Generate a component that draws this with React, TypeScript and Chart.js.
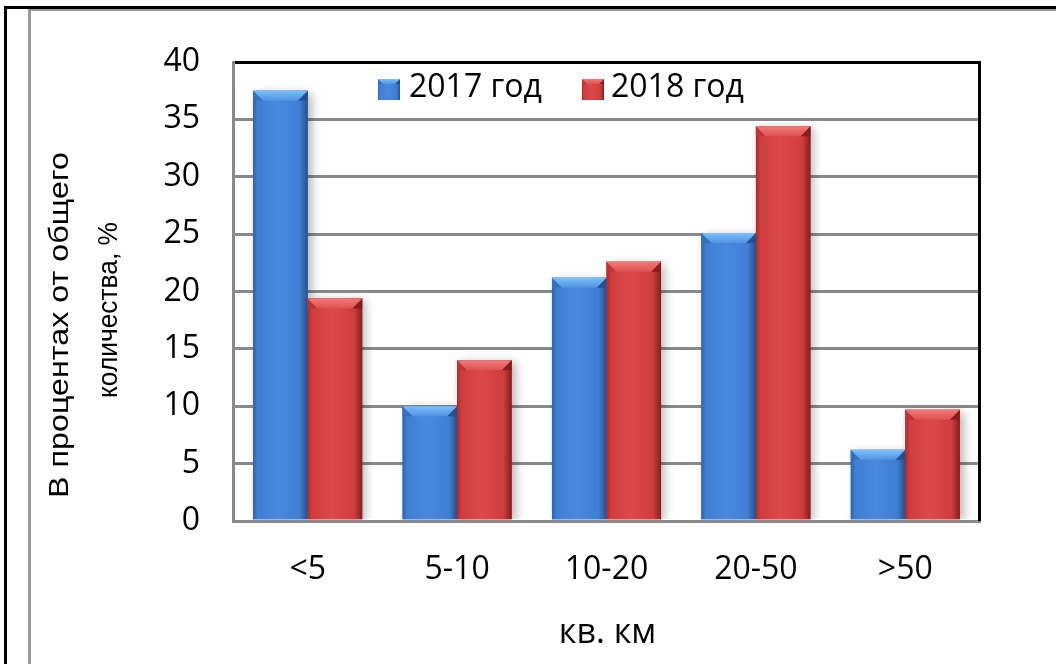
import React, { useEffect, useRef } from "react";
import { Chart, registerables } from "chart.js";

Chart.register(...registerables);

// ---------- data ----------
const categories = ["<5", "5-10", "10-20", "20-50", ">50"];
const values2017 = [37.5, 10.0, 21.2, 25.1, 6.2];
const values2018 = [19.4, 14.0, 22.6, 34.4, 9.7];
const seriesNames = ["2017 год", "2018 год"];
const yMin = 0;
const yMax = 40;
const yStep = 5;
const yTitleLines = ["В процентах от общего", "количества, %"];
const xTitle = "кв. км";

// ---------- styles ----------
const W = 1056;
const H = 664;
const FONT = "'Open Sans', sans-serif";
const TITLE_FONT = "'Liberation Sans', Arial, sans-serif";
const GRID_GRAY = "#898989";

const palettes = [
  {
    base: "#3c7bcf",
    edgeL: "#2c62ad",
    mid: "#3f7fd3",
    light: "#4a8ade",
    edgeR: "#25528f",
    topA: "#7cc0fa",
    topB: "#4f93e3",
    corner: "#3470c0",
  },
  {
    base: "#cc3a3a",
    edgeL: "#a92b2b",
    mid: "#d03d3d",
    light: "#db4a4a",
    edgeR: "#861c1c",
    topA: "#f27a7a",
    topB: "#de5151",
    corner: "#c03434",
  },
];

function drawBevelRect(
  ctx: CanvasRenderingContext2D,
  left: number,
  top: number,
  right: number,
  bottom: number,
  p: any,
  bevel: number,
  shadow: boolean
) {
  const w = right - left;
  ctx.save();
  if (shadow) {
    ctx.shadowColor = "rgba(0,0,0,0.28)";
    ctx.shadowBlur = 9;
    ctx.shadowOffsetX = 4;
    ctx.shadowOffsetY = 2;
  }
  const g = ctx.createLinearGradient(left, 0, right, 0);
  g.addColorStop(0, p.edgeL);
  g.addColorStop(0.08, p.mid);
  g.addColorStop(0.45, p.light);
  g.addColorStop(0.85, p.mid);
  g.addColorStop(1, p.edgeR);
  ctx.fillStyle = g;
  ctx.fillRect(left, top, w, bottom - top);
  ctx.restore();

  const b = Math.min(bevel, (bottom - top) / 2, w / 3);
  ctx.fillStyle = p.corner;
  ctx.beginPath();
  ctx.moveTo(left, top);
  ctx.lineTo(left + b, top + b);
  ctx.lineTo(left, top + b);
  ctx.closePath();
  ctx.fill();
  ctx.fillStyle = p.edgeR;
  ctx.beginPath();
  ctx.moveTo(right, top);
  ctx.lineTo(right - b, top + b);
  ctx.lineTo(right, top + b);
  ctx.closePath();
  ctx.fill();
  const tg = ctx.createLinearGradient(0, top, 0, top + b);
  tg.addColorStop(0, p.topA);
  tg.addColorStop(1, p.topB);
  ctx.fillStyle = tg;
  ctx.beginPath();
  ctx.moveTo(left, top);
  ctx.lineTo(right, top);
  ctx.lineTo(right - b, top + b);
  ctx.lineTo(left + b, top + b);
  ctx.closePath();
  ctx.fill();
}

const decorPlugin = {
  id: "decor",
  beforeDraw(chart: any) {
    const ctx = chart.ctx as CanvasRenderingContext2D;
    ctx.save();
    ctx.fillStyle = "#ffffff";
    ctx.fillRect(0, 0, W, H);
    ctx.fillStyle = "#000000";
    ctx.fillRect(4, 6, W - 4, 3);
    ctx.fillRect(4, 6, 3, H - 6);
    ctx.fillStyle = "#9a9a9a";
    ctx.fillRect(28, 9, 3, H - 9);
    ctx.fillRect(28, 9, W - 28, 2);
    ctx.restore();
  },
  afterDatasetsDraw(chart: any) {
    const ctx = chart.ctx as CanvasRenderingContext2D;
    const area = chart.chartArea;
    ctx.save();
    ctx.beginPath();
    ctx.rect(area.left + 2, area.top - 20, area.right - area.left, area.bottom - area.top + 18);
    ctx.clip();
    chart.data.datasets.forEach((ds: any, di: number) => {
      const meta = chart.getDatasetMeta(di);
      const p = palettes[di];
      meta.data.forEach((el: any) => {
        const { x, y, base, width } = el.getProps(["x", "y", "base", "width"], true);
        drawBevelRect(ctx, x - width / 2, y, x + width / 2, base, p, 10, true);
      });
    });
    ctx.restore();

    ctx.save();
    ctx.fillStyle = "#000000";
    ctx.fillRect(area.right - 2, area.top - 1, 3, area.bottom - area.top + 1);
    ctx.restore();

    // legend
    ctx.save();
    ctx.font = `32px ${FONT}`;
    ctx.textBaseline = "middle";
    const legendItems = [
      { box: 378, text: 409 },
      { box: 582, text: 611 },
    ];
    legendItems.forEach((it, i) => {
      drawBevelRect(ctx, it.box, 79, it.box + 22, 100, palettes[i], 5, false);
      ctx.fillStyle = "#000000";
      ctx.fillText(seriesNames[i], it.text, 88);
    });
    ctx.restore();

    // axis titles
    ctx.save();
    ctx.fillStyle = "#000000";
    ctx.font = `34px ${FONT}`;
    ctx.textAlign = "center";
    ctx.textBaseline = "middle";
    ctx.fillText(xTitle, (area.left + area.right) / 2 + 1, 633);

    ctx.font = `28px ${TITLE_FONT}`;
    const lines = [
      { text: yTitleLines[0], baseX: 68, cy: 325, len: 346 },
      { text: yTitleLines[1], baseX: 117, cy: 310, len: 176 },
    ];
    lines.forEach((l) => {
      const m = ctx.measureText(l.text).width;
      ctx.save();
      ctx.translate(l.baseX, l.cy);
      ctx.rotate(-Math.PI / 2);
      ctx.scale(l.len / m, 1);
      ctx.textAlign = "center";
      ctx.textBaseline = "alphabetic";
      ctx.fillText(l.text, 0, 0);
      ctx.restore();
    });
    ctx.restore();
  },
};

export default function App() {
  const canvasRef = useRef<HTMLCanvasElement | null>(null);

  useEffect(() => {
    const canvas = canvasRef.current;
    if (!canvas) return;
    const chart = new Chart(canvas, {
      type: "bar",
      data: {
        labels: categories,
        datasets: [
          {
            label: seriesNames[0],
            data: values2017,
            backgroundColor: palettes[0].base,
            barPercentage: 1,
            categoryPercentage: 0.73,
          },
          {
            label: seriesNames[1],
            data: values2018,
            backgroundColor: palettes[1].base,
            barPercentage: 1,
            categoryPercentage: 0.73,
          },
        ],
      },
      options: {
        animation: false,
        responsive: false,
        devicePixelRatio: 1,
        layout: { padding: { left: 0, top: 62, right: 76, bottom: 0 } },
        plugins: {
          legend: { display: false },
          tooltip: { enabled: false },
          title: { display: false },
        },
        scales: {
          x: {
            grid: { display: false, drawTicks: false },
            border: { display: true, color: GRID_GRAY, width: 3 },
            ticks: {
              color: "#000000",
              font: { family: FONT, size: 32 },
              padding: 30,
            },
            afterFit: (scale: any) => {
              scale.height = 143;
            },
          },
          y: {
            min: yMin,
            max: yMax,
            ticks: {
              stepSize: yStep,
              color: "#000000",
              font: { family: FONT, size: 32 },
              padding: 33,
            },
            grid: {
              drawTicks: false,
              lineWidth: 3,
              color: (c: any) => (c.tick && c.tick.value === yMax ? "#000000" : GRID_GRAY),
            },
            border: { display: true, color: GRID_GRAY, width: 3 },
            afterFit: (scale: any) => {
              scale.width = 233;
            },
          },
        },
      },
      plugins: [decorPlugin],
    });
    return () => chart.destroy();
  }, []);

  return (
    <div style={{ position: "fixed", left: 0, top: 0, width: W, height: H, background: "#fff" }}>
      <canvas ref={canvasRef} width={W} height={H} style={{ display: "block", width: W, height: H }} />
    </div>
  );
}
